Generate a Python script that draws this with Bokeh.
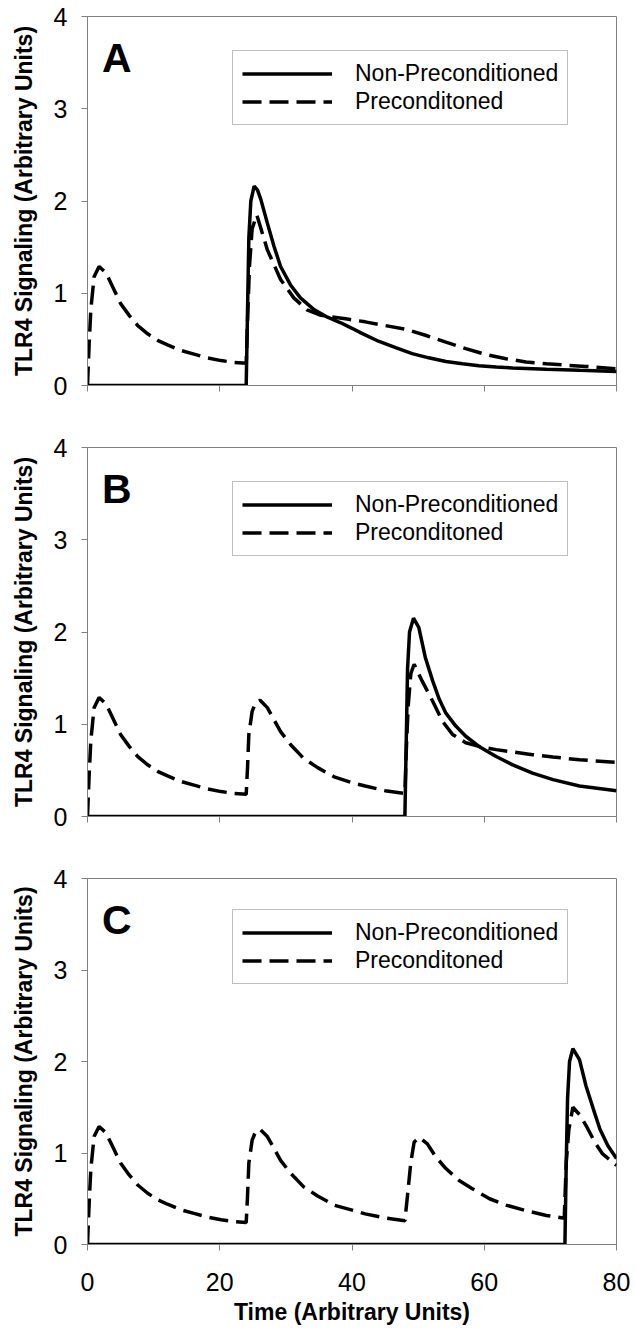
from bokeh.plotting import figure
from bokeh.layouts import column
from bokeh.models import Range1d, FixedTicker, Legend, LegendItem, Label, CustomJSTickFormatter
from bokeh.embed import file_html
from bokeh.resources import INLINE

# ---------------- data ----------------
x_ticks = [0, 20, 40, 60, 80]
y_ticks = [0, 1, 2, 3, 4]
panel_letters = ["A", "B", "C"]
series_labels = ["Non-Preconditioned", "Preconditoned"]
y_title = "TLR4 Signaling (Arbitrary Units)"
x_title = "Time (Arbitrary Units)"

# Panel A
a_non_t = [0, 24.0, 24.2, 24.4, 24.7, 25.2, 25.7, 26.2, 27.2, 28.2, 29.2, 30.7, 32.2, 34.3, 36.3, 38.3,
           40.0, 41.5, 44.0, 46.6, 49.1, 51.6, 54.2, 56.7, 59.2, 61.8, 64.3, 69.4, 74.4, 80.0]
a_non_y = [0, 0, 0.8, 1.6, 2.0, 2.16, 2.12, 2.02, 1.76, 1.51, 1.29, 1.09, 0.95, 0.82, 0.74, 0.68,
           0.62, 0.565, 0.48, 0.41, 0.345, 0.30, 0.26, 0.236, 0.215, 0.20, 0.19, 0.175, 0.164, 0.153]
a_pre_t = [0, 0.25, 0.5, 1.0, 1.75, 2.8, 3.8, 5.0, 6.3, 7.6, 9.1, 10.6, 12.1, 14.1, 16.1, 18.1, 20.2,
           22.2, 24.0, 24.2, 24.5, 24.9, 25.6, 27.2, 29.2, 31.2, 33.2, 35.3, 37.3, 39.3, 42.0, 45.0,
           48.1, 51.1, 54.2, 57.2, 60.3, 63.3, 66.3, 69.4, 72.4, 75.4, 80.0]
a_pre_y = [0, 0.45, 0.82, 1.18, 1.29, 1.22, 1.07, 0.89, 0.76, 0.65, 0.56, 0.49, 0.44, 0.38, 0.34, 0.30, 0.27,
           0.25, 0.24, 0.7, 1.3, 1.7, 1.85, 1.47, 1.15, 0.95, 0.82, 0.76, 0.74, 0.72, 0.69, 0.65,
           0.61, 0.545, 0.47, 0.40, 0.335, 0.29, 0.255, 0.236, 0.22, 0.207, 0.18]

# Panel B
b_non_t = [0, 48.0, 48.2, 48.4, 48.7, 49.3, 50.1, 51.1, 52.2, 53.2, 54.2, 55.7, 57.2, 59.2, 61.8,
           64.3, 67.3, 70.4, 74.4, 80.0]
b_non_y = [0, 0, 0.8, 1.6, 2.0, 2.15, 2.05, 1.72, 1.47, 1.27, 1.12, 0.98, 0.87, 0.76, 0.65,
           0.56, 0.47, 0.40, 0.33, 0.28]
b_pre_t = [0, 0.25, 0.5, 1.0, 1.75, 2.8, 3.8, 5.0, 6.3, 7.6, 9.1, 10.6, 12.1, 14.1, 16.1, 18.1, 20.2,
           22.2, 24.0, 24.2, 24.4, 24.9, 25.4, 26.1, 27.2, 28.2, 29.2, 30.7, 32.7, 34.8, 37.3, 40.3,
           42.0, 45.0, 48.0, 48.2, 48.5, 48.9, 49.4, 50.6, 52.2, 53.7, 55.2, 57.2, 59.2, 61.8, 64.3,
           67.3, 70.4, 74.4, 80.0]
b_pre_y = [0, 0.45, 0.82, 1.18, 1.29, 1.22, 1.07, 0.89, 0.76, 0.65, 0.56, 0.49, 0.44, 0.38, 0.34, 0.30, 0.27,
           0.25, 0.24, 0.53, 0.89, 1.14, 1.23, 1.26, 1.18, 1.05, 0.92, 0.78, 0.63, 0.53, 0.43, 0.36,
           0.33, 0.28, 0.25, 0.7, 1.2, 1.55, 1.65, 1.47, 1.25, 1.03, 0.89, 0.80, 0.76, 0.725, 0.70,
           0.67, 0.645, 0.615, 0.587]

# Panel C
c_non_t = [0, 72.2, 72.4, 72.6, 72.9, 73.4, 74.4, 75.4, 76.5, 77.5, 78.7, 80.0]
c_non_y = [0, 0, 0.9, 1.6, 2.0, 2.14, 2.02, 1.73, 1.48, 1.26, 1.08, 0.94]
c_pre_t = [0, 0.25, 0.5, 1.0, 1.75, 2.8, 3.8, 5.0, 6.3, 7.6, 9.1, 10.6, 12.1, 14.1, 16.1, 18.1, 20.2,
           22.2, 24.0, 24.2, 24.4, 24.9, 25.4, 26.1, 27.2, 28.2, 29.2, 30.7, 32.7, 34.8, 37.3, 40.3,
           42.0, 45.0, 48.0, 48.4, 48.9, 49.4, 50.2, 51.4, 52.7, 54.2, 56.2, 58.2, 60.8, 63.3, 66.3,
           69.4, 71.9, 72.1, 72.4, 72.8, 73.4, 74.4, 75.4, 76.7, 77.9, 80.0]
c_pre_y = [0, 0.45, 0.82, 1.18, 1.29, 1.22, 1.07, 0.89, 0.76, 0.65, 0.56, 0.49, 0.44, 0.38, 0.34, 0.30, 0.27,
           0.25, 0.24, 0.53, 0.89, 1.14, 1.23, 1.26, 1.18, 1.05, 0.92, 0.78, 0.63, 0.53, 0.43, 0.37,
           0.335, 0.29, 0.26, 0.54, 0.90, 1.12, 1.17, 1.10, 0.955, 0.83, 0.70, 0.61, 0.50, 0.43, 0.37,
           0.317, 0.29, 0.29, 0.9, 1.26, 1.50, 1.42, 1.30, 1.12, 0.99, 0.865]

panels = [
    (a_non_t, a_non_y, a_pre_t, a_pre_y),
    (b_non_t, b_non_y, b_pre_t, b_pre_y),
    (c_non_t, c_non_y, c_pre_t, c_pre_y),
]

# ---------------- styling ----------------
FONT = "Liberation Sans"
GRAY = "#808080"
FRAME_W, FRAME_H = 529, 369
LEFT, RIGHT = 87, 14
DASH = "19 8"


def make_panel(idx, non_t, non_y, pre_t, pre_y):
    last = idx == len(panels) - 1
    top = 16
    bottom = 80 if last else 46
    p = figure(width=LEFT + FRAME_W + RIGHT, height=top + FRAME_H + bottom,
               x_range=Range1d(0, 80), y_range=Range1d(0, 4),
               output_backend="svg", toolbar_location=None,
               min_border_left=LEFT, min_border_right=RIGHT,
               min_border_top=top, min_border_bottom=bottom)
    p.xgrid.visible = False
    p.ygrid.visible = False
    p.outline_line_color = GRAY
    p.outline_line_width = 1

    p.xaxis.ticker = FixedTicker(ticks=x_ticks, minor_ticks=[])
    p.yaxis.ticker = FixedTicker(ticks=y_ticks, minor_ticks=[])
    for ax in (p.xaxis, p.yaxis):
        ax.axis_line_color = GRAY
        ax.major_tick_line_color = GRAY
        ax.major_tick_in = 0
        ax.major_tick_out = 6
        ax.minor_tick_out = 0
        ax.minor_tick_in = 0
        ax.major_label_text_font = FONT
        ax.major_label_text_font_size = "25px"
        ax.major_label_text_color = "black"
        ax.axis_label_text_font = FONT
        ax.axis_label_text_font_size = "23px"
        ax.axis_label_text_font_style = "bold"
        ax.axis_label_text_color = "black"
    p.yaxis.major_label_standoff = 14
    p.yaxis.axis_label = y_title
    p.yaxis.axis_label_standoff = 14
    if last:
        p.xaxis.axis_label = x_title
        p.xaxis.major_label_standoff = 22
        p.xaxis.axis_label_standoff = 5
    else:
        p.xaxis.formatter = CustomJSTickFormatter(code="return ''")
        p.xaxis.major_label_text_font_size = "1px"

    r1 = p.line(non_t, non_y, line_width=3.5, line_color="black")
    r2 = p.line(pre_t, pre_y, line_width=3.5, line_color="black", line_dash=DASH)

    legend = Legend(items=[LegendItem(label=series_labels[0], renderers=[r1]),
                           LegendItem(label=series_labels[1], renderers=[r2])],
                    location=(145, 260), margin=0, padding=9, spacing=1,
                    glyph_width=90, glyph_height=27, label_height=27, label_standoff=23,
                    label_text_font=FONT, label_text_font_size="23px", label_text_color="black",
                    border_line_color=GRAY, border_line_width=1,
                    background_fill_color="white", background_fill_alpha=1.0)
    p.add_layout(legend)

    p.add_layout(Label(x=2.2, y=3.55, text=panel_letters[idx], text_font=FONT,
                       text_font_size="41px", text_font_style="bold", text_color="black",
                       text_align="left", text_baseline="alphabetic"))
    return p


figs = [make_panel(i, *d) for i, d in enumerate(panels)]
layout = column(*figs, spacing=0)

open("out.html", "w").write(file_html(layout, INLINE))
